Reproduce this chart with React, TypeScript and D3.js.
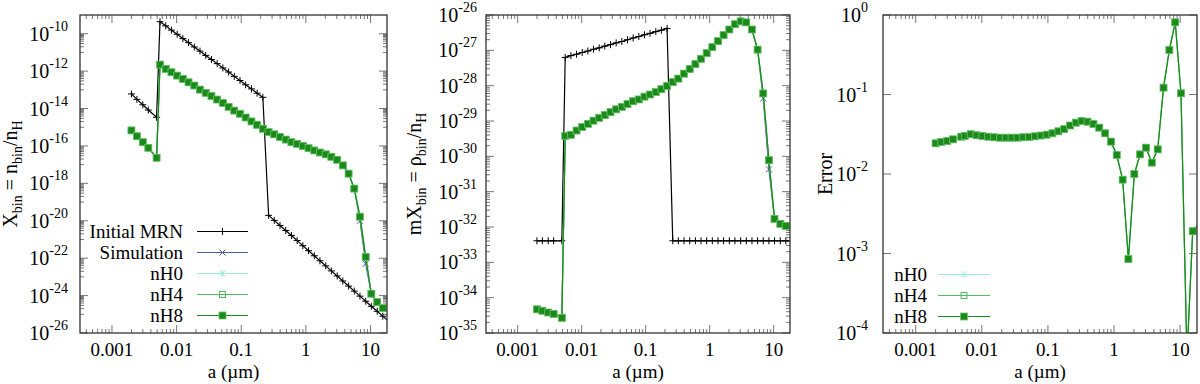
import React, { useRef, useEffect } from 'react';
import * as d3 from 'd3';

// grain radius of each bin (micron): 5 small-grain bins, then the log grid
const grainSize = [
    0.002, 0.00243, 0.003, 0.00365, 0.0049,
    0.00553, 0.00679, 0.00832, 0.0102, 0.0125, 0.0153, 0.0188, 0.023, 0.0282, 0.0346,
    0.0424, 0.052, 0.0637, 0.0781, 0.0957, 0.117, 0.144, 0.176, 0.216, 0.265,
    0.324, 0.398, 0.488, 0.598, 0.733, 0.898, 1.1, 1.35, 1.65, 2.03,
    2.48, 3.05, 3.73, 4.58, 5.61, 6.87, 8.43, 10.3, 12.7, 15.5, 19.0,
];

// log10 of X_bin = n_bin / n_H
const xbinMrn = [
    -13.22, -13.51, -13.8, -14.08, -14.47,
    -9.36, -9.58, -9.81, -10.03, -10.26, -10.48, -10.71, -10.93, -11.16, -11.38,
    -11.6, -11.83, -12.05, -12.28, -12.5, -12.73, -12.95, -13.18, -13.4, -19.71,
    -19.98, -20.25, -20.52, -20.79, -21.06, -21.33, -21.6, -21.87, -22.14, -22.41,
    -22.68, -22.95, -23.22, -23.49, -23.76, -24.03, -24.3, -24.57, -24.84, -25.1, -25.37,
];
const xbinSim = [
    -15.17, -15.48, -15.8, -16.1, -16.63,
    -11.65, -11.88, -12.06, -12.24, -12.42, -12.6, -12.77, -12.99, -13.16, -13.33,
    -13.52, -13.7, -13.91, -14.11, -14.28, -14.48, -14.69, -14.87, -15.08, -15.26,
    -15.38, -15.52, -15.66, -15.8, -15.89, -16.01, -16.12, -16.24, -16.35, -16.45,
    -16.58, -16.74, -17.04, -17.48, -18.28, -20.0, -22.3, -23.9, -24.35, -24.67, -24.85,
];
const xbinNH8 = [
    -15.17, -15.48, -15.8, -16.1, -16.63,
    -11.65, -11.88, -12.06, -12.24, -12.42, -12.6, -12.77, -12.99, -13.16, -13.33,
    -13.52, -13.7, -13.91, -14.11, -14.28, -14.48, -14.69, -14.87, -15.08, -15.26,
    -15.38, -15.52, -15.66, -15.8, -15.89, -16.01, -16.12, -16.24, -16.35, -16.45,
    -16.58, -16.74, -17.04, -17.48, -18.28, -19.78, -21.93, -23.9, -24.35, -24.67, -24.85,
];
// nH0 and nH4 sit exactly under nH8
const xbinNH0 = xbinNH8;
const xbinNH4 = xbinNH8;

// log10 of mX_bin = rho_bin / n_H
const mxbinMrn = [
    -32.39, -32.39, -32.39, -32.39, -32.39,
    -27.2, -27.15, -27.11, -27.06, -27.02, -26.97, -26.93, -26.88, -26.84, -26.79,
    -26.75, -26.7, -26.65, -26.61, -26.56, -26.52, -26.47, -26.43, -26.38, -32.39,
    -32.39, -32.39, -32.39, -32.39, -32.39, -32.39, -32.39, -32.39, -32.39, -32.39,
    -32.39, -32.39, -32.39, -32.39, -32.39, -32.39, -32.39, -32.39, -32.39, -32.39, -32.39,
];
const mxbinSim = [
    -34.33, -34.37, -34.42, -34.46, -34.57,
    -29.42, -29.39, -29.27, -29.17, -29.08, -28.99, -28.91, -28.83, -28.75, -28.67,
    -28.6, -28.52, -28.44, -28.39, -28.31, -28.25, -28.18, -28.1, -28.01, -27.9,
    -27.8, -27.66, -27.53, -27.39, -27.24, -27.08, -26.91, -26.74, -26.57, -26.41,
    -26.26, -26.18, -26.21, -26.41, -26.98, -28.36, -30.37, -31.77, -31.91, -31.97, -32.02,
];
const mxbinNH8 = [
    -34.33, -34.37, -34.42, -34.46, -34.57,
    -29.42, -29.39, -29.27, -29.17, -29.08, -28.99, -28.91, -28.83, -28.75, -28.67,
    -28.6, -28.52, -28.44, -28.39, -28.31, -28.25, -28.18, -28.1, -28.01, -27.9,
    -27.8, -27.66, -27.53, -27.39, -27.24, -27.08, -26.91, -26.74, -26.57, -26.41,
    -26.26, -26.18, -26.21, -26.41, -26.98, -28.22, -30.11, -31.77, -31.91, -31.97, -32.02,
];
const mxbinNH0 = mxbinNH8;
const mxbinNH4 = mxbinNH8;

// log10 of relative error
const errorNH8 = [
    -1.614, -1.597, -1.585, -1.564, -1.531,
    -1.52, -1.5, -1.513, -1.522, -1.531, -1.538, -1.543, -1.543, -1.543, -1.543,
    -1.538, -1.535, -1.526, -1.516, -1.505, -1.488, -1.463, -1.436, -1.39, -1.354,
    -1.333, -1.342, -1.371, -1.417, -1.488, -1.593, -1.761, -2.071, -3.07, -2.0,
    -1.753, -1.669, -1.857, -1.69, -0.914, -0.44, -0.092, -0.985, -4.3, -2.72, -2.63,
];
const errorNH0 = errorNH8;
const errorNH4 = errorNH8;

const xTickValues = [0.001, 0.01, 0.1, 1, 10];
const xTickLabels = ['0.001', '0.01', '0.1', '1', '10'];
const xbinTickExp = [-26, -24, -22, -20, -18, -16, -14, -12, -10];
const mxbinTickExp = [-35, -34, -33, -32, -31, -30, -29, -28, -27, -26];
const errorTickExp = [-4, -3, -2, -1, 0];

const FONT = "'Liberation Serif', 'Times New Roman', serif";
const X_DOMAIN = [3.2e-4, 18];

const styles = {
    'Initial MRN': { color: '#000000', marker: 'plus' },
    'Simulation': { color: '#4d5c9c', marker: 'cross' },
    'nH0': { color: '#9eeedd', marker: 'star' },
    'nH4': { color: '#4fbf5c', marker: 'open' },
    'nH8': { color: '#1b8a1b', marker: 'filled' },
};

function addMarker(g, kind, color, cx, cy) {
    if (kind === 'filled') {
        g.append('rect').attr('x', cx - 3.5).attr('y', cy - 3.5).attr('width', 7).attr('height', 7)
            .attr('fill', color).attr('stroke', '#6cc46c').attr('stroke-width', 0.8);
        return;
    }
    if (kind === 'open') {
        g.append('rect').attr('x', cx - 3).attr('y', cy - 3).attr('width', 6).attr('height', 6)
            .attr('fill', 'none').attr('stroke', color).attr('stroke-width', 1);
        return;
    }
    let d = '';
    if (kind === 'plus' || kind === 'star') d += `M${cx - 3.5},${cy}H${cx + 3.5}M${cx},${cy - 3.5}V${cy + 3.5}`;
    if (kind === 'cross' || kind === 'star') d += `M${cx - 3},${cy - 3}L${cx + 3},${cy + 3}M${cx - 3},${cy + 3}L${cx + 3},${cy - 3}`;
    g.append('path').attr('d', d).attr('stroke', color).attr('stroke-width', 1).attr('fill', 'none');
}

function richText(sel, parts, size, small) {
    let shift = 0;
    parts.forEach(([t, kind]) => {
        const target = kind === 'sub' ? 5 : kind === 'sup' ? -10 : 0;
        sel.append('tspan').attr('dy', target - shift).attr('font-size', kind ? small : size).text(t);
        shift = target;
    });
}

function drawPanel(svg, p) {
    const x = d3.scaleLog().domain(X_DOMAIN).range([p.left, p.right]);
    const y = d3.scaleLog().domain([10 ** p.yExp[0], 10 ** p.yExp[1]]).range([p.bottom, p.top]);
    const g = svg.append('g');

    const clipId = 'clip-' + p.id;
    g.append('clipPath').attr('id', clipId).append('rect')
        .attr('x', p.left).attr('y', p.top)
        .attr('width', p.right - p.left).attr('height', p.bottom - p.top);

    const ticks = g.append('g').attr('stroke', '#777').attr('stroke-width', 1);

    // x ticks, bottom and top
    const xMinor = [];
    for (let e = -4; e <= 1; e++) for (let k = 2; k <= 9; k++) {
        const v = k * 10 ** e;
        if (v > X_DOMAIN[0] && v < X_DOMAIN[1]) xMinor.push(v);
    }
    xMinor.forEach(v => {
        const px = x(v);
        ticks.append('line').attr('x1', px).attr('x2', px).attr('y1', p.bottom).attr('y2', p.bottom - 4);
        ticks.append('line').attr('x1', px).attr('x2', px).attr('y1', p.top).attr('y2', p.top + 4);
    });
    xTickValues.forEach((v, i) => {
        const px = x(v);
        ticks.append('line').attr('x1', px).attr('x2', px).attr('y1', p.bottom).attr('y2', p.bottom - 8);
        ticks.append('line').attr('x1', px).attr('x2', px).attr('y1', p.top).attr('y2', p.top + 8);
        g.append('text').attr('x', px).attr('y', 356).attr('text-anchor', 'middle')
            .attr('font-family', FONT).attr('font-size', 19).text(xTickLabels[i]);
    });

    // y ticks, left and right
    const yMinor = [];
    if (p.yMinor === 'odd') {
        p.yTicks.forEach(e => {
            for (let k = 1; k <= 9; k++) {
                const v = k * 10 ** (e + 1);
                if (e + 1 < p.yExp[1]) yMinor.push(v);
            }
        });
    } else if (p.yMinor === 'all') {
        p.yTicks.forEach(e => {
            for (let k = 2; k <= 9; k++) if (e < p.yExp[1]) yMinor.push(k * 10 ** e);
        });
    }
    yMinor.forEach(v => {
        const py = y(v);
        ticks.append('line').attr('x1', p.left).attr('x2', p.left + 4).attr('y1', py).attr('y2', py);
        ticks.append('line').attr('x1', p.right).attr('x2', p.right - 4).attr('y1', py).attr('y2', py);
    });
    p.yTicks.forEach(e => {
        const py = y(10 ** e);
        ticks.append('line').attr('x1', p.left).attr('x2', p.left + 8).attr('y1', py).attr('y2', py);
        ticks.append('line').attr('x1', p.right).attr('x2', p.right - 8).attr('y1', py).attr('y2', py);
        const t = g.append('text').attr('x', p.left - p.labelGap).attr('y', py + 7)
            .attr('text-anchor', 'end').attr('font-family', FONT);
        richText(t, [['10', ''], [String(e), 'sup']], 20, 14);
    });

    // series
    const plot = g.append('g').attr('clip-path', `url(#${clipId})`);
    const line = d3.line().x(d => x(d[0])).y(d => y(d[1]));
    p.series.forEach(s => {
        const st = styles[s.name];
        const pts = grainSize.map((a, i) => [a, 10 ** s.values[i]]);
        plot.append('path').attr('d', line(pts)).attr('fill', 'none')
            .attr('stroke', st.color).attr('stroke-width', 1.2);
        const mk = plot.append('g');
        pts.forEach(d => {
            const px = x(d[0]), py = y(d[1]);
            if (px < p.left || px > p.right || py < p.top || py > p.bottom) return;
            addMarker(mk, st.marker, st.color, px, py);
        });
    });

    // border
    g.append('rect').attr('x', p.left).attr('y', p.top)
        .attr('width', p.right - p.left).attr('height', p.bottom - p.top)
        .attr('fill', 'none').attr('stroke', '#333').attr('stroke-width', 1.3);

    // axis labels
    g.append('text').attr('x', (p.left + p.right) / 2).attr('y', 378).attr('text-anchor', 'middle')
        .attr('font-family', FONT).attr('font-size', 19).text('a (\u00b5m)');
    const yl = g.append('text')
        .attr('transform', `translate(${p.ylabelX},${(p.top + p.bottom) / 2}) rotate(-90)`)
        .attr('text-anchor', 'middle').attr('font-family', FONT).attr('font-size', 20);
    richText(yl, p.ylabel, 20, 14);

    // legend
    if (p.legend) {
        p.legend.names.forEach((name, i) => {
            const st = styles[name];
            const ly = p.legend.y0 + i * p.legend.dy;
            g.append('text').attr('x', p.legend.textRight).attr('y', ly + 6.5).attr('text-anchor', 'end')
                .attr('font-family', FONT).attr('font-size', 19).text(name);
            g.append('line').attr('x1', p.legend.x1).attr('x2', p.legend.x2).attr('y1', ly).attr('y2', ly)
                .attr('stroke', st.color).attr('stroke-width', 1.2);
            addMarker(g, st.marker, st.color, (p.legend.x1 + p.legend.x2) / 2, ly);
        });
    }
}

export default function App() {
    const ref = useRef(null);

    useEffect(() => {
        const svg = d3.select(ref.current);
        svg.selectAll('*').remove();

        drawPanel(svg, {
            id: 'xbin', left: 80, right: 387, top: 15, bottom: 333,
            yExp: [-26, -9], yTicks: xbinTickExp, yMinor: 'odd', labelGap: 12, ylabelX: 17,
            ylabel: [['X', ''], ['bin', 'sub'], [' = n', ''], ['bin', 'sub'], ['/n', ''], ['H', 'sub']],
            series: [
                { name: 'Initial MRN', values: xbinMrn },
                { name: 'Simulation', values: xbinSim },
                { name: 'nH0', values: xbinNH0 },
                { name: 'nH4', values: xbinNH4 },
                { name: 'nH8', values: xbinNH8 },
            ],
            legend: {
                names: ['Initial MRN', 'Simulation', 'nH0', 'nH4', 'nH8'],
                y0: 231.5, dy: 21, textRight: 183, x1: 197, x2: 248,
            },
        });

        drawPanel(svg, {
            id: 'mxbin', left: 486, right: 790, top: 15, bottom: 333,
            yExp: [-35, -26], yTicks: mxbinTickExp, yMinor: 'all', labelGap: 9, ylabelX: 421,
            ylabel: [['mX', ''], ['bin', 'sub'], [' = \u03c1', ''], ['bin', 'sub'], ['/n', ''], ['H', 'sub']],
            series: [
                { name: 'Initial MRN', values: mxbinMrn },
                { name: 'Simulation', values: mxbinSim },
                { name: 'nH0', values: mxbinNH0 },
                { name: 'nH4', values: mxbinNH4 },
                { name: 'nH8', values: mxbinNH8 },
            ],
        });

        drawPanel(svg, {
            id: 'error', left: 883, right: 1197, top: 15, bottom: 333,
            yExp: [-4, 0], yTicks: errorTickExp, yMinor: 'none', labelGap: 15, ylabelX: 832,
            ylabel: [['Error', '']],
            series: [
                { name: 'nH0', values: errorNH0 },
                { name: 'nH4', values: errorNH4 },
                { name: 'nH8', values: errorNH8 },
            ],
            legend: {
                names: ['nH0', 'nH4', 'nH8'],
                y0: 274.5, dy: 21, textRight: 927, x1: 938, x2: 990,
            },
        });
    }, []);

    return (
        <svg ref={ref} width={1200} height={384}
             style={{ position: 'absolute', left: 0, top: 0, background: '#fff' }} />
    );
}
